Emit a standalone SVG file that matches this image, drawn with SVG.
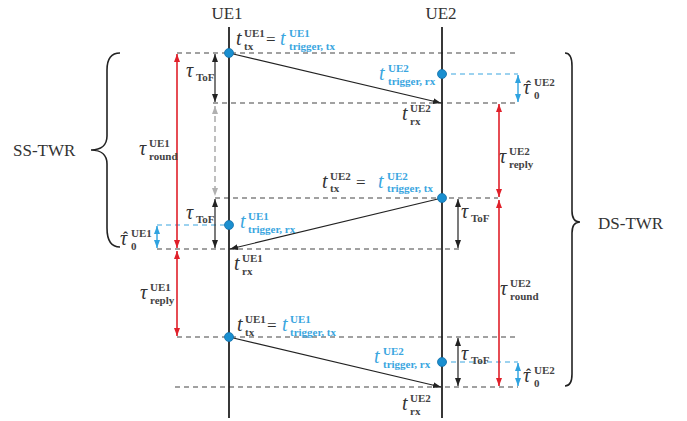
<svg xmlns="http://www.w3.org/2000/svg" width="687" height="421" viewBox="0 0 687 421">
<defs>
<style>
.life{stroke:#222;stroke-width:1.8;fill:none}
.dl{stroke:#444;stroke-width:1.2;stroke-dasharray:5,4;fill:none}
.bl{stroke:#3aa6df;stroke-width:1.2;stroke-dasharray:5,4;fill:none}
.ak{stroke:#222;stroke-width:1.2;fill:none}
.ar{stroke:#e0202a;stroke-width:1.6;fill:none}
.ab{stroke:#2fa3e0;stroke-width:1.4;fill:none}
.ag{stroke:#b0b0b0;stroke-width:1.6;stroke-dasharray:6,4;fill:none}
.brace{stroke:#222;stroke-width:1.6;fill:none}
.dot{fill:#1a8fd0;stroke:#1570a8;stroke-width:0.8}
.ttl{font-family:"Liberation Serif",serif;font-size:17px;fill:#333}
.m{font-family:"Liberation Serif",serif;font-style:italic;font-size:20px;fill:#333}
.h{font-family:"Liberation Serif",serif;font-size:15px;font-weight:bold;fill:#333}
.s{font-family:"Liberation Serif",serif;font-size:11px;font-weight:bold;fill:#444}
.eq{font-family:"Liberation Serif",serif;font-size:17px;fill:#333}
.blue{fill:#3aa6df}
</style>
<marker id="mk" viewBox="0 0 8 6" markerWidth="8" markerHeight="6" refX="8" refY="3" orient="auto-start-reverse" markerUnits="userSpaceOnUse"><path d="M0,0 L8,3 L0,6 z" fill="#222"/></marker>
<marker id="mr" viewBox="0 0 8 6" markerWidth="8" markerHeight="6" refX="8" refY="3" orient="auto-start-reverse" markerUnits="userSpaceOnUse"><path d="M0,0 L8,3 L0,6 z" fill="#e0202a"/></marker>
<marker id="mb" viewBox="0 0 8 6" markerWidth="8" markerHeight="6" refX="8" refY="3" orient="auto-start-reverse" markerUnits="userSpaceOnUse"><path d="M0,0 L8,3 L0,6 z" fill="#2fa3e0"/></marker>
<marker id="mg" viewBox="0 0 8 6" markerWidth="8" markerHeight="6" refX="8" refY="3" orient="auto-start-reverse" markerUnits="userSpaceOnUse"><path d="M0,0 L8,3 L0,6 z" fill="#b0b0b0"/></marker>
</defs>
<rect width="687" height="421" fill="#fff"/>

<g id="reference-lines">
<line class="dl" x1="177" y1="53" x2="517" y2="53"/>
<line class="dl" x1="213" y1="103" x2="518" y2="103"/>
<line class="dl" x1="215" y1="198" x2="498" y2="198"/>
<line class="dl" x1="157" y1="249" x2="460" y2="249"/>
<line class="dl" x1="177" y1="337" x2="517" y2="337"/>
<line class="dl" x1="175" y1="387" x2="518" y2="387"/>
<line class="bl" x1="442" y1="74" x2="518" y2="74"/>
<line class="bl" x1="157" y1="225" x2="229" y2="225"/>
<line class="bl" x1="442" y1="362" x2="518" y2="362"/>
</g>

<g id="UE1">
<text class="ttl" x="227" y="19" text-anchor="middle">UE1</text>
<line class="life" x1="229" y1="27" x2="229" y2="418"/>
</g>
<g id="UE2">
<text class="ttl" x="441" y="19" text-anchor="middle">UE2</text>
<line class="life" x1="442" y1="27" x2="442" y2="418"/>
</g>

<g id="connectors">
<line class="ak" x1="229" y1="53" x2="441" y2="103" marker-end="url(#mk)"/>
<line class="ak" x1="442" y1="198" x2="230" y2="249" marker-end="url(#mk)"/>
<line class="ak" x1="229" y1="337" x2="441" y2="387" marker-end="url(#mk)"/>
<line class="ak" x1="215" y1="54" x2="215" y2="102" marker-start="url(#mk)" marker-end="url(#mk)"/>
<line class="ag" x1="215" y1="106" x2="215" y2="196" marker-start="url(#mg)" marker-end="url(#mg)"/>
<line class="ak" x1="215" y1="199" x2="215" y2="248" marker-start="url(#mk)" marker-end="url(#mk)"/>
<line class="ak" x1="458" y1="199" x2="458" y2="248" marker-start="url(#mk)" marker-end="url(#mk)"/>
<line class="ak" x1="458" y1="338" x2="458" y2="386" marker-start="url(#mk)" marker-end="url(#mk)"/>
<line class="ar" x1="177" y1="54" x2="177" y2="248" marker-start="url(#mr)" marker-end="url(#mr)"/>
<line class="ar" x1="177" y1="251" x2="177" y2="336" marker-start="url(#mr)" marker-end="url(#mr)"/>
<line class="ar" x1="499" y1="104" x2="499" y2="197" marker-start="url(#mr)" marker-end="url(#mr)"/>
<line class="ar" x1="499" y1="200" x2="499" y2="386" marker-start="url(#mr)" marker-end="url(#mr)"/>
<line class="ab" x1="518" y1="75" x2="518" y2="102" marker-start="url(#mb)" marker-end="url(#mb)"/>
<line class="ab" x1="157" y1="226" x2="157" y2="248" marker-start="url(#mb)" marker-end="url(#mb)"/>
<line class="ab" x1="518" y1="363" x2="518" y2="386" marker-start="url(#mb)" marker-end="url(#mb)"/>
</g>

<g id="events">
<circle class="dot" cx="229" cy="53" r="4.5"/>
<circle class="dot" cx="442" cy="74" r="4.5"/>
<circle class="dot" cx="442" cy="198" r="4.5"/>
<circle class="dot" cx="229" cy="225" r="4.5"/>
<circle class="dot" cx="229" cy="337" r="4.5"/>
<circle class="dot" cx="442" cy="362" r="4.5"/>
</g>

<g id="ss-twr">
<path class="brace" d="M120,53 C110,53 107,60 107,70 L107,136 C107,145 101,150 91,150 C101,150 107,155 107,164 L107,228 C107,240 111,247 120,247"/>
<text class="ttl" x="13" y="156">SS-TWR</text>
</g>
<g id="ds-twr">
<path class="brace" d="M565,53 C570,53 572,58 572,66 L572,211 C572,218 575,222 580,222 C575,222 572,226 572,233 L572,374 C572,382 570,386 565,386"/>
<text class="ttl" x="598" y="229">DS-TWR</text>
</g>

<g id="labels">
<text><tspan class="m" x="236" y="45">t</tspan><tspan class="s" x="244" y="37">UE1</tspan><tspan class="s" x="244" y="50">tx</tspan><tspan class="eq" x="266" y="45">=</tspan><tspan class="m blue" x="280" y="45">t</tspan><tspan class="s blue" x="289" y="37">UE1</tspan><tspan class="s blue" x="289" y="50">trigger, tx</tspan></text>
<text><tspan class="m blue" x="379" y="80">t</tspan><tspan class="s blue" x="388" y="72">UE2</tspan><tspan class="s blue" x="388" y="85">trigger, rx</tspan></text>
<text><tspan class="m" x="402" y="120">t</tspan><tspan class="s" x="410" y="112">UE2</tspan><tspan class="s" x="410" y="125">rx</tspan></text>
<text><tspan class="m" x="186" y="77">τ</tspan><tspan class="s" x="196" y="81">ToF</tspan></text>
<text><tspan class="m" x="186" y="219">τ</tspan><tspan class="s" x="196" y="223">ToF</tspan></text>
<text><tspan class="m" x="461" y="218">τ</tspan><tspan class="s" x="471" y="222">ToF</tspan></text>
<text><tspan class="m" x="461" y="360">τ</tspan><tspan class="s" x="471" y="364">ToF</tspan></text>
<text><tspan class="m" x="139" y="155">τ</tspan><tspan class="s" x="149" y="147">UE1</tspan><tspan class="s" x="149" y="160">round</tspan></text>
<text><tspan class="m" x="140" y="299">τ</tspan><tspan class="s" x="150" y="291">UE1</tspan><tspan class="s" x="150" y="304">reply</tspan></text>
<text><tspan class="m" x="499" y="163">τ</tspan><tspan class="s" x="509" y="155">UE2</tspan><tspan class="s" x="509" y="168">reply</tspan></text>
<text><tspan class="m" x="500" y="295">τ</tspan><tspan class="s" x="510" y="287">UE2</tspan><tspan class="s" x="510" y="300">round</tspan></text>
<text><tspan class="m" x="523" y="94">τ</tspan><tspan class="h" x="526" y="91">ˆ</tspan><tspan class="s" x="534" y="86">UE2</tspan><tspan class="s" x="534" y="99">0</tspan></text>
<text><tspan class="m" x="120" y="245">τ</tspan><tspan class="h" x="123" y="242">ˆ</tspan><tspan class="s" x="131" y="237">UE1</tspan><tspan class="s" x="131" y="250">0</tspan></text>
<text><tspan class="m" x="523" y="382">τ</tspan><tspan class="h" x="526" y="379">ˆ</tspan><tspan class="s" x="534" y="374">UE2</tspan><tspan class="s" x="534" y="387">0</tspan></text>
<text><tspan class="m" x="322" y="188">t</tspan><tspan class="s" x="330" y="180">UE2</tspan><tspan class="s" x="330" y="192">tx</tspan><tspan class="eq" x="356" y="188">=</tspan><tspan class="m blue" x="378" y="188">t</tspan><tspan class="s blue" x="387" y="180">UE2</tspan><tspan class="s blue" x="387" y="192">trigger, tx</tspan></text>
<text><tspan class="m blue" x="240" y="228">t</tspan><tspan class="s blue" x="248" y="220">UE1</tspan><tspan class="s blue" x="248" y="233">trigger, rx</tspan></text>
<text><tspan class="m" x="234" y="270">t</tspan><tspan class="s" x="242" y="262">UE1</tspan><tspan class="s" x="242" y="275">rx</tspan></text>
<text><tspan class="m" x="237" y="331">t</tspan><tspan class="s" x="245" y="323">UE1</tspan><tspan class="s" x="245" y="336">tx</tspan><tspan class="eq" x="267" y="331">=</tspan><tspan class="m blue" x="282" y="331">t</tspan><tspan class="s blue" x="290" y="323">UE1</tspan><tspan class="s blue" x="290" y="336">trigger, tx</tspan></text>
<text><tspan class="m blue" x="374" y="363">t</tspan><tspan class="s blue" x="383" y="355">UE2</tspan><tspan class="s blue" x="383" y="368">trigger, rx</tspan></text>
<text><tspan class="m" x="402" y="410">t</tspan><tspan class="s" x="410" y="402">UE2</tspan><tspan class="s" x="410" y="415">rx</tspan></text>
</g>
</svg>
